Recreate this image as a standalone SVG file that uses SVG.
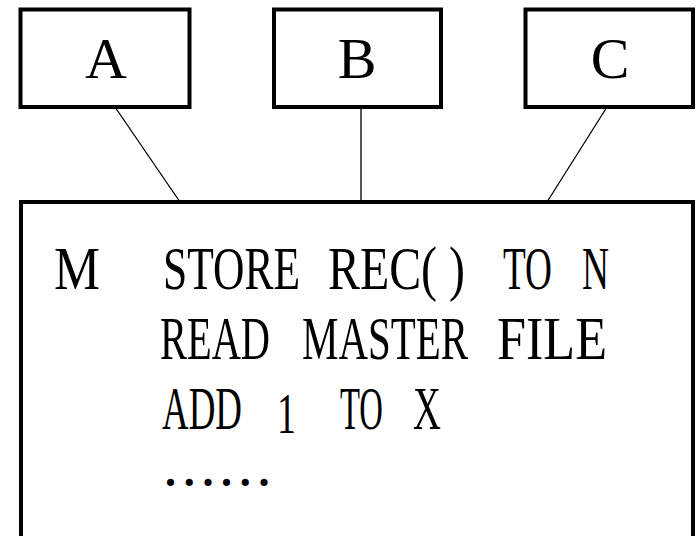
<svg xmlns="http://www.w3.org/2000/svg" width="700" height="536" viewBox="0 0 700 536">
<style>
.box{fill:#fff;stroke:#000;stroke-width:4}
.lbl{font-family:"Liberation Serif","DejaVu Serif",serif;font-size:58px;fill:#000;text-anchor:middle}
.code{font-family:"Liberation Serif","DejaVu Serif",serif;font-size:41px;fill:#000}
.dots{font-family:"Liberation Serif","DejaVu Serif",serif;font-size:44px;font-weight:bold;letter-spacing:7.7px;fill:#000}
.conn line{stroke:#000;stroke-width:1.3}
</style>
<rect width="700" height="536" fill="#fff"/>
<g class="conn" id="connectors">
<line x1="115" y1="107" x2="180" y2="202"/>
<line x1="361" y1="107" x2="361" y2="202"/>
<line x1="607" y1="107" x2="547" y2="202"/>
</g>
<g id="A"><rect class="box" x="20.5" y="9.5" width="169" height="97.5"/><text class="lbl" x="106" y="78">A</text></g>
<g id="B"><rect class="box" x="274" y="9.5" width="167" height="97.5"/><text class="lbl" x="357" y="78">B</text></g>
<g id="C"><rect class="box" x="525.5" y="9.5" width="167.5" height="97.5"/><text class="lbl" x="610" y="78">C</text></g>
<g id="M">
<rect class="box" x="21" y="202" width="672" height="400"/>
<g transform="scale(1,1.5)">
<text class="code" y="192.67"><tspan x="54" textLength="46" lengthAdjust="spacingAndGlyphs">M</tspan><tspan x="163" textLength="137" lengthAdjust="spacingAndGlyphs">STORE</tspan><tspan x="328" textLength="137" lengthAdjust="spacingAndGlyphs">REC( )</tspan><tspan x="503" textLength="49" lengthAdjust="spacingAndGlyphs">TO</tspan><tspan x="582" textLength="27" lengthAdjust="spacingAndGlyphs">N</tspan></text>
<text class="code" y="239.33"><tspan x="160" textLength="110" lengthAdjust="spacingAndGlyphs">READ</tspan><tspan x="302" textLength="166" lengthAdjust="spacingAndGlyphs">MASTER</tspan><tspan x="497" textLength="110" lengthAdjust="spacingAndGlyphs">FILE</tspan></text>
<text class="code" y="286"><tspan x="162" textLength="80" lengthAdjust="spacingAndGlyphs">ADD</tspan><tspan x="277" y="288.67" textLength="19" lengthAdjust="spacingAndGlyphs" style="font-size:38px">1</tspan><tspan x="340" y="286" textLength="43" lengthAdjust="spacingAndGlyphs">TO</tspan><tspan x="413" textLength="28" lengthAdjust="spacingAndGlyphs">X</tspan></text>
</g>
<text class="dots" x="165" y="486">......</text>
</g>
</svg>
